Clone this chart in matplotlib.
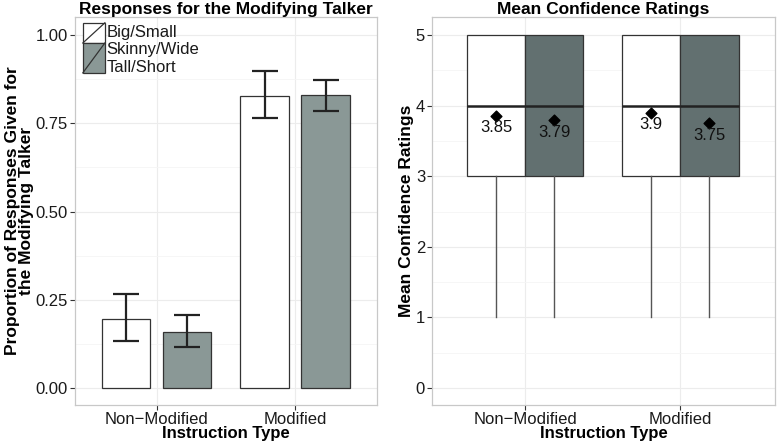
import numpy as np
import matplotlib.pyplot as plt
from matplotlib.patches import Rectangle
from matplotlib.lines import Line2D

plt.rcParams['font.family'] = ['Liberation Sans', 'DejaVu Sans']

# ---- data ----
groups = ['Non\u2212Modified', 'Modified']
series = ['Big/Small', 'Skinny/Wide', 'Tall/Short']
prop_white = [0.195, 0.827]
prop_white_lo = [0.133, 0.765]
prop_white_hi = [0.266, 0.898]
prop_gray = [0.159, 0.830]
prop_gray_lo = [0.116, 0.785]
prop_gray_hi = [0.207, 0.873]

box_q1 = [3, 3, 3, 3]
box_med = [4, 4, 4, 4]
box_q3 = [5, 5, 5, 5]
box_min = [1, 1, 1, 1]
means = [3.85, 3.79, 3.9, 3.75]
mean_labels = ['3.85', '3.79', '3.9', '3.75']

white = '#ffffff'
gray_l = '#8a9896'
gray_r = '#627070'
edge = '#333333'
grid_c = '#ececec'
border_c = '#c8c8c8'

fig = plt.figure(figsize=(7.77, 4.46), dpi=100)
ax1 = fig.add_axes([0.0965, 0.0919, 0.3887, 0.870])
ax2 = fig.add_axes([0.556, 0.0919, 0.4415, 0.870])


def style(ax):
    for s in ax.spines.values():
        s.set_color(border_c)
        s.set_linewidth(0.9)
    ax.tick_params(axis='both', colors='#333333', labelsize=12, length=3.5, width=0.8,
                   labelcolor='#1a1a1a', pad=1.5)
    ax.set_axisbelow(True)
    ax.grid(True, which='major', color=grid_c, lw=0.8)
    ax.grid(True, which='minor', color='#f5f5f5', lw=0.6)
    ax.tick_params(which='minor', length=0)


# ---- left panel ----
x = np.arange(1, len(groups) + 1)
bw = 0.348
off = 0.221
ax1.bar(x - off, prop_white, bw, color=white, edgecolor=edge, lw=0.9, zorder=2)
ax1.bar(x + off, prop_gray, bw, color=gray_l, edgecolor=edge, lw=0.9, zorder=2)
ax1.errorbar(x - off, prop_white,
             yerr=[np.subtract(prop_white, prop_white_lo), np.subtract(prop_white_hi, prop_white)],
             fmt='none', ecolor='#222222', elinewidth=1.6, capsize=9.5, capthick=1.6, zorder=3)
ax1.errorbar(x + off, prop_gray,
             yerr=[np.subtract(prop_gray, prop_gray_lo), np.subtract(prop_gray_hi, prop_gray)],
             fmt='none', ecolor='#222222', elinewidth=1.6, capsize=9.5, capthick=1.6, zorder=3)
ax1.set_xlim(0.406, 2.594)
ax1.set_ylim(-0.048, 1.051)
ax1.set_xticks(x)
ax1.set_xticklabels(groups)
ax1.set_yticks([0, 0.25, 0.5, 0.75, 1.0])
ax1.set_yticklabels(['0.00', '0.25', '0.50', '0.75', '1.00'])
ax1.set_yticks([0.125, 0.375, 0.625, 0.875], minor=True)
style(ax1)
ax1.set_title('Responses for the Modifying Talker', fontsize=12.5, fontweight='bold', pad=2)
ax1.set_xlabel('Instruction Type', fontsize=12, fontweight='bold', labelpad=-1)
ax1.set_ylabel('Proportion of Responses Given for\nthe Modifying Talker', fontsize=12.5,
               fontweight='bold', linespacing=0.9, labelpad=1)

# legend keys (white box, gray box shared by two entries)
tr = ax1.transAxes
ax1.add_patch(Rectangle((0.026, 0.933), 0.073, 0.052, transform=tr, facecolor=white,
                        edgecolor=edge, lw=0.9, zorder=5))
ax1.add_patch(Rectangle((0.026, 0.856), 0.073, 0.077, transform=tr, facecolor=gray_l,
                        edgecolor=edge, lw=0.9, zorder=5))
ax1.add_line(Line2D([0.026, 0.099], [0.933, 0.985], transform=tr, color=edge, lw=0.9, zorder=6))
ax1.add_line(Line2D([0.026, 0.099], [0.856, 0.933], transform=tr, color=edge, lw=0.9, zorder=6))
for lab, yy in zip(series, [0.960, 0.915, 0.871]):
    ax1.text(0.105, yy, lab, transform=tr, fontsize=12, va='center', ha='left', color='#1a1a1a')

# ---- right panel ----
bx = np.array([1 - 0.1875, 1 + 0.1875, 2 - 0.1875, 2 + 0.1875])
bwr = 0.375
fills = [white, gray_r, white, gray_r]
for i in range(len(bx)):
    ax2.add_patch(Rectangle((bx[i] - bwr / 2, box_q1[i]), bwr, box_q3[i] - box_q1[i],
                            facecolor=fills[i], edgecolor=edge, lw=0.9, zorder=2))
    ax2.plot([bx[i] - bwr / 2, bx[i] + bwr / 2], [box_med[i], box_med[i]], color='#222222',
             lw=1.8, zorder=3, solid_capstyle='butt')
    ax2.plot([bx[i], bx[i]], [box_min[i], box_q1[i]], color='#555555', lw=1.0, zorder=2)
ax2.scatter(bx, means, marker='D', s=30, color='black', zorder=4)
for i in range(len(bx)):
    ax2.text(bx[i], means[i] - 0.06, mean_labels[i], ha='center', va='top', fontsize=12,
             color='#111111', zorder=5)
ax2.set_xlim(0.4, 2.61)
ax2.set_ylim(-0.24, 5.255)
ax2.set_xticks([1, 2])
ax2.set_xticklabels(groups)
ax2.set_yticks([0, 1, 2, 3, 4, 5])
ax2.set_yticks([0.5, 1.5, 2.5, 3.5, 4.5], minor=True)
style(ax2)
ax2.set_title('Mean Confidence Ratings', fontsize=12.5, fontweight='bold', pad=2)
ax2.set_xlabel('Instruction Type', fontsize=12, fontweight='bold', labelpad=-1)
ax2.set_ylabel('Mean Confidence Ratings', fontsize=12.5, fontweight='bold', labelpad=1)

fig.savefig('out.png', dpi=100)
